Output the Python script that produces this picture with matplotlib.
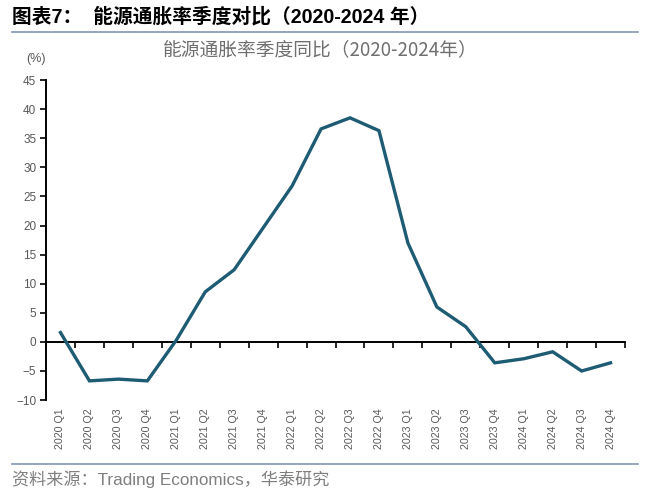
import numpy as np
import matplotlib.pyplot as plt
from matplotlib.lines import Line2D

plt.rcParams['font.family'] = ['Liberation Sans', 'Noto Sans CJK SC', 'DejaVu Sans']

# DATA
quarters = ['2020 Q1', '2020 Q2', '2020 Q3', '2020 Q4',
            '2021 Q1', '2021 Q2', '2021 Q3', '2021 Q4',
            '2022 Q1', '2022 Q2', '2022 Q3', '2022 Q4',
            '2023 Q1', '2023 Q2', '2023 Q3', '2023 Q4',
            '2024 Q1', '2024 Q2', '2024 Q3', '2024 Q4']
energy_yoy = [1.6, -6.7, -6.4, -6.7,
              0.3, 8.6, 12.4, 19.6,
              26.8, 36.6, 38.5, 36.3,
              17.0, 6.0, 2.6, -3.6,
              -2.9, -1.7, -5.0, -3.6]
y_ticks = [-10, -5, 0, 5, 10, 15, 20, 25, 30, 35, 40, 45]

grey = '#595959'
line_color = '#1d5c73'
rule_color = '#8496b0'

fig = plt.figure(figsize=(6.5, 4.97), dpi=100)
ax = fig.add_axes([0.0708, 0.195, 0.8908, 0.644])

x = np.arange(len(quarters))
ax.plot(x, energy_yoy, color=line_color, lw=2.4, solid_joinstyle='miter')

ymin, ymax = -10, 45
ax.set_ylim(ymin, ymax)
ax.set_xlim(-0.5, len(quarters) - 0.5)
ax.set_yticks(y_ticks)
ax.tick_params(axis='y', direction='out', length=4, width=1.2, color='black',
               labelsize=8.5, labelcolor=grey, pad=3)

# category labels along the bottom
ax.set_xticks(x)
ax.set_xticklabels(quarters, rotation=90, fontsize=7.7, color=grey)
ax.tick_params(axis='x', length=0, pad=6)

for s in ['top', 'right', 'bottom']:
    ax.spines[s].set_visible(False)
ax.spines['left'].set_linewidth(1.4)

# zero axis with boundary ticks
zero_pos = -ymin / (ymax - ymin)
sec = ax.secondary_xaxis(zero_pos)
sec.set_xticks(np.arange(len(quarters) + 1) - 0.5)
sec.set_xticklabels([])
sec.tick_params(direction='out', length=4, width=1.2, color='black')
sec.spines['bottom'].set_linewidth(1.4)

ax.text(-0.018, 1.065, '(%)', transform=ax.transAxes, fontsize=9, color=grey,
        ha='center', va='center')
fig.text(0.493, 0.899, '能源通胀率季度同比（2020-2024年）',
         fontsize=13.5, color='#6f6f6f', ha='center', va='center',
         family=['Noto Sans CJK SC', 'DejaVu Sans'], fontweight='light')

# header and footer
fig.text(0.018, 0.966, '图表7：  能源通胀率季度对比（2020-2024 年）', fontsize=14.2,
         fontweight='bold', color='black', ha='left', va='center',
         family=['Liberation Sans', 'Noto Sans CJK SC'])
fig.add_artist(Line2D([0.018, 0.982], [0.935, 0.935], color=rule_color, lw=1.2))
fig.add_artist(Line2D([0.018, 0.982], [0.066, 0.066], color=rule_color, lw=1.2))
fig.text(0.018, 0.036, '资料来源：Trading Economics，华泰研究', fontsize=12.3,
         color='#7f7f7f', ha='left', va='center')

fig.savefig('out.png', dpi=100)
